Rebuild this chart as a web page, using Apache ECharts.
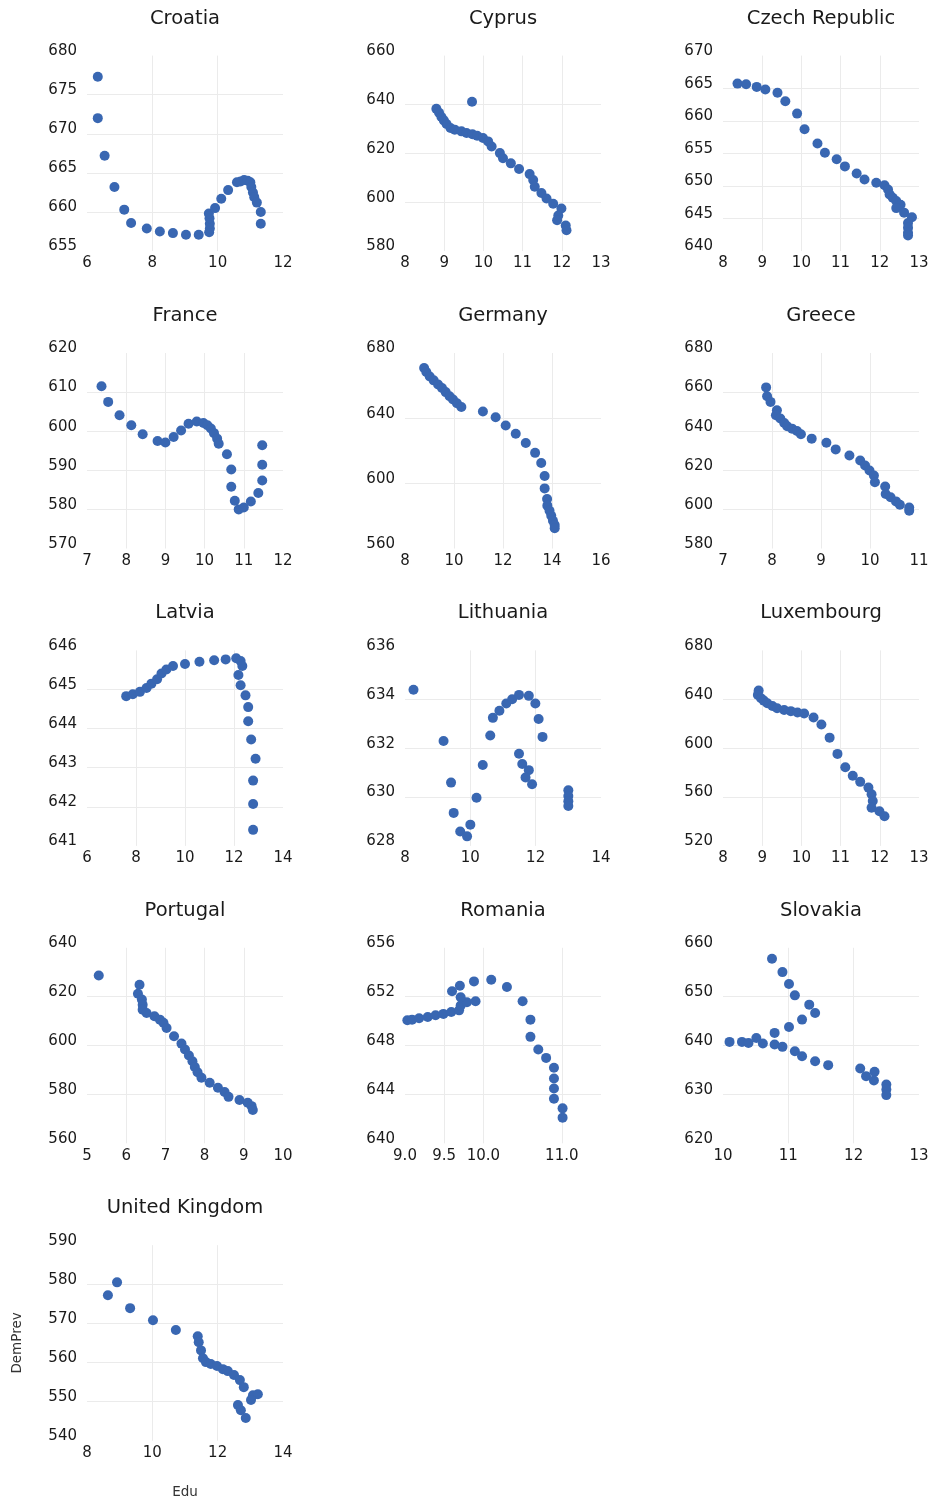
<!DOCTYPE html>
<html>
<head>
<meta charset="utf-8">
<script src="https://cdn.jsdelivr.net/npm/echarts@6/dist/echarts.min.js"></script>
<style>
html,body{margin:0;padding:0;background:#ffffff;}
#chart{width:928px;height:1497px;}
</style>
</head>
<body>
<div id="chart"></div>
<script>
const countries = ['Croatia','Cyprus','Czech Republic','France','Germany','Greece','Latvia','Lithuania','Luxembourg','Portugal','Romania','Slovakia','United Kingdom'];

const croatia = [[6.33,677.3],[6.33,672.0],[6.54,667.2],[6.84,663.2],[7.14,660.3],[7.35,658.6],[7.83,657.9],[8.23,657.5],[8.63,657.3],[9.03,657.1],[9.42,657.1],[9.74,657.4],[9.76,657.9],[9.76,658.5],[9.75,659.2],[9.73,659.8],[9.92,660.5],[10.11,661.7],[10.32,662.8],[10.59,663.8],[10.7,663.9],[10.81,664.1],[10.92,664.0],[11.0,663.8],[11.03,663.2],[11.08,662.5],[11.12,661.9],[11.2,661.2],[11.32,660.0],[11.32,658.5]];
const cyprus = [[8.80,638.2],[8.87,636.6],[8.93,634.9],[8.99,633.5],[9.06,632.0],[9.16,630.4],[9.27,629.7],[9.44,629.0],[9.57,628.3],[9.72,627.8],[9.71,641.1],[9.84,627.2],[9.99,626.3],[10.12,624.9],[10.21,622.8],[10.42,620.1],[10.50,618.0],[10.70,615.9],[10.91,613.6],[11.18,611.5],[11.27,609.1],[11.31,606.3],[11.48,603.8],[11.61,601.5],[11.78,599.4],[11.99,597.4],[11.91,594.6],[11.88,592.6],[12.10,590.5],[12.12,588.5]];
const czech = [[8.37,665.7],[8.59,665.6],[8.86,665.2],[9.08,664.8],[9.39,664.3],[9.59,663.0],[9.89,661.1],[10.08,658.7],[10.41,656.5],[10.60,655.1],[10.90,654.1],[11.11,653.0],[11.41,651.9],[11.61,651.0],[11.91,650.5],[12.12,650.1],[12.21,649.45],[12.25,648.7],[12.33,648.2],[12.42,647.7],[12.53,647.1],[12.42,646.6],[12.62,645.9],[12.82,645.2],[12.72,644.3],[12.72,643.6],[12.72,642.8],[12.72,642.4]];
const france = [[7.37,611.5],[7.54,607.5],[7.83,604.1],[8.13,601.5],[8.42,599.2],[8.80,597.5],[9.0,597.1],[9.21,598.5],[9.40,600.2],[9.59,601.9],[9.80,602.5],[9.97,602.1],[10.07,601.5],[10.16,600.7],[10.24,599.5],[10.32,598.1],[10.36,596.8],[10.57,594.1],[10.68,590.2],[10.68,585.8],[10.77,582.2],[10.87,580.0],[11.0,580.5],[11.18,582.0],[11.37,584.2],[11.47,587.4],[11.47,591.4],[11.47,596.4]];
const germany = [[8.78,670.8],[8.87,668.3],[9.01,665.6],[9.17,663.2],[9.35,660.7],[9.51,658.5],[9.66,656.0],[9.82,653.5],[9.96,651.5],[10.12,649.2],[10.30,646.8],[11.18,644.1],[11.70,640.6],[12.11,635.5],[12.52,630.4],[12.93,624.8],[13.31,618.7],[13.56,612.5],[13.70,604.5],[13.70,596.9],[13.80,590.4],[13.81,586.3],[13.90,583.2],[13.97,580.1],[14.04,577.0],[14.11,574.4],[14.11,572.5]];
const greece = [[7.88,662.4],[7.90,657.9],[7.97,655.0],[8.10,650.7],[8.08,648.2],[8.17,646.5],[8.25,644.2],[8.31,642.5],[8.41,641.3],[8.51,640.1],[8.59,638.4],[8.81,636.2],[9.11,634.1],[9.30,630.7],[9.58,627.6],[9.80,625.0],[9.90,622.5],[9.99,619.9],[10.08,617.3],[10.10,613.9],[10.31,611.7],[10.32,607.9],[10.42,606.2],[10.53,604.1],[10.61,602.4],[10.80,601.0],[10.80,599.3]];
const latvia = [[7.60,644.83],[7.87,644.88],[8.16,644.94],[8.43,645.04],[8.63,645.15],[8.86,645.26],[9.04,645.41],[9.24,645.51],[9.51,645.60],[10.0,645.65],[10.59,645.71],[11.19,645.75],[11.66,645.77],[12.09,645.80],[12.27,645.73],[12.34,645.60],[12.18,645.37],[12.27,645.11],[12.47,644.85],[12.58,644.55],[12.58,644.19],[12.70,643.72],[12.88,643.23],[12.78,642.67],[12.78,642.07],[12.78,641.41]];
const lithuania = [[8.26,634.39],[9.18,632.29],[9.41,630.59],[9.49,629.35],[9.69,628.59],[9.90,628.39],[10.0,628.87],[10.19,629.97],[10.38,631.31],[10.61,632.52],[10.69,633.24],[10.89,633.53],[11.10,633.83],[11.28,634.0],[11.49,634.18],[11.79,634.14],[11.99,633.83],[12.09,633.19],[12.21,632.46],[11.49,631.77],[11.59,631.35],[11.79,631.10],[11.69,630.80],[11.89,630.52],[13.0,630.28],[13.0,630.04],[13.0,629.83],[13.0,629.63]];
const luxembourg = [[8.91,647.2],[8.89,643.6],[8.97,640.8],[9.04,638.9],[9.13,636.7],[9.26,634.5],[9.38,632.6],[9.56,631.2],[9.73,630.3],[9.90,629.2],[10.07,628.4],[10.31,625.1],[10.51,619.3],[10.72,608.6],[10.92,595.3],[11.12,584.3],[11.31,577.4],[11.50,572.4],[11.71,567.7],[11.79,562.2],[11.82,556.7],[11.79,551.2],[11.99,548.4],[12.12,544.3]];
const portugal = [[5.30,628.7],[6.34,624.9],[6.30,621.2],[6.40,618.8],[6.42,616.7],[6.42,614.7],[6.52,613.3],[6.72,612.0],[6.86,610.6],[6.95,609.3],[7.03,607.2],[7.22,603.8],[7.41,600.8],[7.50,598.4],[7.60,595.9],[7.69,593.6],[7.75,591.2],[7.82,589.1],[7.92,586.8],[8.13,584.8],[8.34,582.7],[8.51,581.0],[8.61,579.0],[8.89,577.7],[9.10,576.6],[9.20,575.2],[9.23,573.6]];
const romania = [[9.03,650.07],[9.09,650.12],[9.18,650.23],[9.29,650.34],[9.39,650.48],[9.49,650.59],[9.59,650.75],[9.69,650.88],[9.71,651.27],[9.79,651.54],[9.90,651.62],[9.60,652.44],[9.70,652.90],[9.71,651.95],[9.88,653.25],[10.10,653.39],[10.30,652.79],[10.50,651.62],[10.60,650.12],[10.60,648.71],[10.70,647.67],[10.80,646.99],[10.90,646.18],[10.90,645.31],[10.90,644.49],[10.90,643.65],[11.01,642.86],[11.01,642.10]];
const slovakia = [[10.75,657.76],[10.91,655.03],[11.01,652.59],[11.10,650.27],[11.32,648.37],[11.41,646.67],[11.21,645.31],[11.01,643.81],[10.79,642.59],[10.10,640.75],[10.29,640.75],[10.39,640.54],[10.51,641.56],[10.61,640.41],[10.79,640.20],[10.91,639.73],[11.10,638.84],[11.21,637.82],[11.41,636.80],[11.61,635.99],[12.10,635.31],[12.19,633.74],[12.32,634.63],[12.31,632.86],[12.50,632.04],[12.50,631.02],[12.50,629.86]];
const unitedKingdom = [[8.64,577.2],[8.92,580.5],[9.32,573.9],[10.02,570.8],[10.72,568.3],[11.39,566.7],[11.42,565.2],[11.49,563.1],[11.55,561.1],[11.64,560.1],[11.79,559.6],[11.98,559.1],[12.16,558.3],[12.31,557.8],[12.50,556.8],[12.68,555.5],[12.80,553.7],[12.62,549.1],[12.71,547.8],[12.86,545.8],[13.08,551.6],[13.23,551.9],[13.02,550.4]];

const panelData = [croatia,cyprus,czech,france,germany,greece,latvia,lithuania,luxembourg,portugal,romania,slovakia,unitedKingdom];

const xMin  = [6, 8, 8, 7, 8, 7, 6, 8, 8, 5, 9, 10, 8];
const xMax  = [12, 13, 13, 12, 16, 11, 14, 14, 13, 10, 11.5, 13, 14];
const xStep = [2, 1, 1, 1, 2, 1, 2, 2, 1, 1, 0.5, 1, 2];
const yMin  = [655, 580, 640, 570, 560, 580, 641, 628, 520, 560, 640, 620, 540];
const yMax  = [680, 660, 670, 620, 680, 680, 646, 636, 680, 640, 656, 660, 590];
const yStep = [5, 20, 5, 10, 40, 20, 1, 2, 40, 20, 4, 10, 10];
const romaniaXLabels = [9, 9.5, 10, 11];
const romaniaXGrid = [9, 9.5, 10, 11, 11.5];

const FONT = 'DejaVu Sans';
const DOT = '#3967b2';
const GRIDC = '#ebebeb';

const grids = [], xAxes = [], yAxes = [], series = [], titles = [];
countries.forEach((name, i) => {
  const col = i % 3, row = Math.floor(i / 3);
  const left = 87 + col * 318;
  const top = 55.6 + row * 297.4;
  const w = 196, h = 195.5;
  grids.push({left: left, top: top, width: w, height: h, containLabel: false, outerBoundsMode: 'none'});
  titles.push({
    text: name, left: left + w / 2, top: top - 47, textAlign: 'center', padding: 0,
    textStyle: {fontFamily: FONT, fontSize: 19.5, fontWeight: 'normal', color: '#1a1a1a'}
  });
  const xa = {
    type: 'value', gridIndex: i, min: xMin[i], max: xMax[i], interval: xStep[i],
    axisLine: {show: false}, axisTick: {show: false},
    splitLine: {show: true, showMinLine: false, showMaxLine: false, lineStyle: {color: GRIDC, width: 1}},
    axisLabel: {margin: 5, fontFamily: FONT, fontSize: 15, color: '#1a1a1a'}
  };
  if (name === 'Romania') {
    xa.axisLabel.customValues = romaniaXLabels;
    xa.axisLabel.formatter = v => Number(v).toFixed(1);
    xa.axisTick.customValues = romaniaXGrid;
  }
  const ya = {
    type: 'value', gridIndex: i, min: yMin[i], max: yMax[i], interval: yStep[i],
    axisLine: {show: false}, axisTick: {show: false},
    splitLine: {show: true, showMinLine: false, showMaxLine: false, lineStyle: {color: GRIDC, width: 1}},
    axisLabel: {margin: 10, fontFamily: FONT, fontSize: 15, color: '#1a1a1a', verticalAlign: 'bottom', lineHeight: 9}
  };
  if (name === 'United Kingdom') {
    xa.name = 'Edu'; xa.nameLocation = 'middle'; xa.nameGap = 45;
    xa.nameTextStyle = {fontFamily: FONT, fontSize: 13.5, color: '#333333'};
    ya.name = 'DemPrev'; ya.nameLocation = 'middle'; ya.nameGap = 63;
    ya.nameTextStyle = {fontFamily: FONT, fontSize: 13.5, color: '#333333'};
  }
  xAxes.push(xa);
  yAxes.push(ya);
  series.push({
    type: 'scatter', name: name, xAxisIndex: i, yAxisIndex: i, data: panelData[i],
    symbol: 'circle', symbolSize: 10, itemStyle: {color: DOT, opacity: 1}, silent: true
  });
});

const chart = echarts.init(document.getElementById('chart'), null, {renderer: 'canvas'});
chart.setOption({
  animation: false,
  backgroundColor: '#ffffff',
  title: titles,
  grid: grids,
  xAxis: xAxes,
  yAxis: yAxes,
  series: series
});
</script>
</body>
</html>
